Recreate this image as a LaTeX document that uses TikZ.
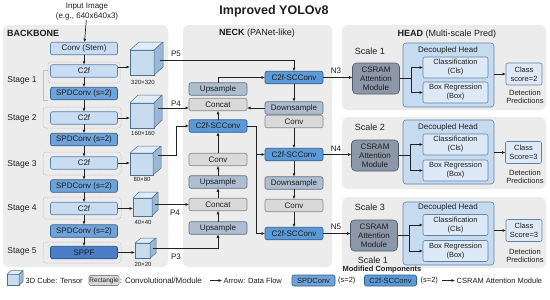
\documentclass[tikz,border=0pt]{standalone}
\usepackage{fontspec}
\setmainfont{Liberation Sans}
\usetikzlibrary{arrows.meta,calc}
\definecolor{panelbg}{HTML}{ECECEC}
\definecolor{linec}{HTML}{222222}
\definecolor{lbfill}{HTML}{C9DDF2}
\definecolor{lbdraw}{HTML}{5A7EA6}
\definecolor{spdfill}{HTML}{6FA2D6}
\definecolor{spddraw}{HTML}{2F5F8F}
\definecolor{sppffill}{HTML}{4A7FC8}
\definecolor{sppfdraw}{HTML}{244F85}
\definecolor{sccfill}{HTML}{5B9AD6}
\definecolor{sccdraw}{HTML}{2D5F91}
\definecolor{udfill}{HTML}{AEBDD0}
\definecolor{uddraw}{HTML}{5F6F84}
\definecolor{gcfill}{HTML}{D9D9D9}
\definecolor{gcdraw}{HTML}{8A8A8A}
\definecolor{csfill}{HTML}{8C98A8}
\definecolor{csdraw}{HTML}{4E5968}
\definecolor{dhfill}{HTML}{C6DBEF}
\definecolor{dhdraw}{HTML}{6283A8}
\definecolor{infill}{HTML}{DDE9F6}
\definecolor{cubefr}{HTML}{C8DCF0}
\definecolor{cubetp}{HTML}{E0ECF8}
\definecolor{cubesd}{HTML}{9BB7D4}
\definecolor{cubedr}{HTML}{4F6F90}
\definecolor{textc}{HTML}{1E1E1E}
\newcommand\tcube[6]{%
  \node[cubef, minimum width=#3pt, minimum height=#4pt] (#1) at (#2) {};
  \draw[cubeline, fill=cubetp] (#1.north west) -- ++(#5,-#6) -- ++(#3,0) -- (#1.north east) -- cycle;
  \draw[cubeline, fill=cubesd] (#1.north east) -- ++(#5,-#6) -- ++(0,#4) -- (#1.south east) -- cycle;}
\begin{document}
\begin{tikzpicture}[x=1pt,y=-1pt,
  arr/.style={-{Latex[length=3.5pt,width=3pt]}, line width=0.7pt, draw=linec},
  ln/.style={line width=0.7pt, draw=linec},
  box/.style={draw, rounded corners=2pt, line width=0.6pt, minimum height=12.5pt, inner sep=1pt, outer sep=0pt, text=textc, font=\fontsize{8}{9}\selectfont},
  bbox/.style={box, minimum width=67pt},
  nbox/.style={box, minimum width=58pt},
  lblue/.style={fill=lbfill, draw=lbdraw},
  spd/.style={fill=spdfill, draw=spddraw},
  sppf/.style={fill=sppffill, draw=sppfdraw},
  scc/.style={fill=sccfill, draw=sccdraw},
  ud/.style={fill=udfill, draw=uddraw},
  gc/.style={fill=gcfill, draw=gcdraw},
  csram/.style={box, fill=csfill, draw=csdraw, rounded corners=4pt, align=center, minimum width=47pt, minimum height=31pt},
  dhead/.style={draw=dhdraw, fill=dhfill, line width=0.6pt, rounded corners=3pt, minimum width=91pt, outer sep=0pt},
  inbox/.style={box, fill=infill, draw=dhdraw, align=center, minimum width=65pt, minimum height=21pt, font=\fontsize{7.5}{9}\selectfont},
  scorebox/.style={box, fill=infill, draw=dhdraw, align=center, minimum width=36pt, minimum height=22pt, font=\fontsize{7.5}{9}\selectfont},
  lbl/.style={font=\fontsize{8}{9}\selectfont, text=textc, inner sep=0pt},
  small/.style={font=\fontsize{6}{7}\selectfont, text=textc, inner sep=0pt},
  leg/.style={font=\fontsize{7.5}{8}\selectfont, text=textc, inner sep=0.5pt},
  hdr/.style={font=\fontsize{9}{10}\selectfont, text=textc, inner sep=0pt},
  grp/.style={draw=gray!55, dash pattern=on 1.5pt off 1pt, line width=0.5pt, rounded corners=3pt},
  cubef/.style={draw=cubedr, fill=cubefr, line width=0.5pt, inner sep=0pt, outer sep=0pt},
  cubeline/.style={draw=cubedr, line width=0.5pt, line join=round},
  panel/.style={fill=panelbg, rounded corners=6pt}
]
\useasboundingbox (0,0) rectangle (550,300);
\fill[white] (0,0) rectangle (550,300);

% panels
\fill[panel] (3,25) rectangle (168,267);
\fill[panel] (183,25) rectangle (332,267);
\fill[panel] (342,25) rectangle (546,110);
\fill[panel] (342,117) rectangle (546,189);
\fill[panel] (342,197) rectangle (546,268);

% title and headers
\node[font=\bfseries\fontsize{12.5}{14}\selectfont, text=textc] (title) at (274,11.5) {Improved YOLOv8};
\node[font=\bfseries\fontsize{9}{10}\selectfont, text=textc, anchor=west, inner sep=0pt] (bbt) at (7,33) {BACKBONE};
\node[hdr] (nkt) at (257,33) {\textbf{NECK} (PANet-like)};
\node[hdr] (hdt) at (447,34) {\textbf{HEAD} (Multi-scale Pred)};
\node[lbl, align=center, font=\fontsize{8}{9.5}\selectfont] (inp) at (87,11.5) {Input Image\\(e.g., 640x640x3)};

% stage groups
\draw[grp] (48,62) rectangle (120,83);
\draw[grp] (43,107) rectangle (121,128);
\draw[grp] (43,152) rectangle (121,175);
\draw[grp] (43,197) rectangle (121,219);
\draw[grp] (43,242) rectangle (121,263);
\draw[gray!50, line width=0.6pt] (48,70) -- (43,70) -- (43,100) -- (48,100);

\node[lbl, font=\fontsize{8.5}{10}\selectfont] (s1) at (22,80) {Stage 1};
\node[lbl, font=\fontsize{8.5}{10}\selectfont] (s2) at (22,118) {Stage 2};
\node[lbl, font=\fontsize{8.5}{10}\selectfont] (s3) at (22,164) {Stage 3};
\node[lbl, font=\fontsize{8.5}{10}\selectfont] (s4) at (22,208) {Stage 4};
\node[lbl, font=\fontsize{8.5}{10}\selectfont] (s5) at (22,251) {Stage 5};

% backbone boxes
\node[bbox, lblue] (stem) at (84,48.5) {Conv (Stem)};
\node[bbox, lblue] (c2f1) at (84,71) {C2f};
\node[bbox, spd] (spd1) at (84,93.5) {SPDConv (s=2)};
\node[bbox, lblue] (c2f2) at (84,118) {C2f};
\node[bbox, spd] (spd2) at (84,139.5) {SPDConv (s=2)};
\node[bbox, lblue] (c2f3) at (84,163) {C2f};
\node[bbox, spd] (spd3) at (84,186) {SPDConv (s=2)};
\node[bbox, lblue] (c2f4) at (84,208.5) {C2f};
\node[bbox, spd] (spd4) at (84,231) {SPDConv (s=2)};
\node[bbox, sppf] (sppf) at (84,252.5) {SPPF};

\draw[arr] (inp) -- (stem);
\draw[arr] (stem) -- (c2f1);
\draw[arr] (c2f1) -- (spd1);
\draw[arr] (spd1) -- (c2f2);
\draw[arr] (c2f2) -- (spd2);
\draw[arr] (spd2) -- (c2f3);
\draw[arr] (c2f3) -- (spd3);
\draw[arr] (spd3) -- (c2f4);
\draw[arr] (c2f4) -- (spd4);
\draw[arr] (spd4) -- (sppf);

% cubes
\tcube{cb1}{142,62.5}{24}{25}{9}{8}
\tcube{cb2}{142,115.5}{24}{25}{8}{8}
\tcube{cb3}{141.5,164}{23}{22}{8}{7}
\tcube{cb4}{142.5,207}{19}{18}{6}{6}
\tcube{cb5}{142.5,250.5}{15}{15}{6}{5}
\node[small] (l1) at (143,82) {320×320};
\node[small] (l2) at (143,133.5) {160×160};
\node[small] (l3) at (142,179.5) {80×80};
\node[small] (l4) at (143,222) {40×40};
\node[small] (l5) at (143,264) {20×20};

\coordinate (a1) at ([yshift=4pt]c2f1.east);
\draw[arr] (a1) -- (a1 -| cb1.west);
\draw[arr] (c2f2.east) -- (c2f2.east -| cb2.west);
\draw[arr] (c2f3.east) -- (c2f3.east -| cb3.west);
\draw[arr] (c2f4.east) -- (c2f4.east -| cb4.west);
\draw[arr] (sppf.east) -- (sppf.east -| cb5.west);

% neck left column
\node[nbox, ud] (upT) at (218,89) {Upsample};
\node[nbox, gc] (catT) at (218,104.5) {Concat};
\node[nbox, scc] (sccL) at (218,126) {C2f-SCConv};
\node[nbox, gc] (convL) at (218,159.5) {Conv};
\node[nbox, ud] (upM) at (218,182) {Upsample};
\node[nbox, gc] (catB) at (218,204.5) {Concat};
\node[nbox, ud] (upB) at (218,228) {Upsample};
% neck right column
\node[nbox, scc] (scc1) at (294,77.5) {C2f-SCConv};
\node[nbox, ud] (dsT) at (294,108) {Downsample};
\node[nbox, gc] (convT) at (294,121.5) {Conv};
\node[nbox, scc] (scc2) at (294,154.5) {C2f-SCConv};
\node[nbox, ud] (dsB) at (294,183) {Downsample};
\node[nbox, gc] (convB) at (294,205.5) {Conv};
\node[nbox, scc] (scc3) at (294,233.5) {C2f-SCConv};

% cube outputs
\coordinate (c1o) at (160,60);
\coordinate (c2o) at (158,108);
\coordinate (c3o) at (158,155);
\coordinate (c4o) at (155,204.5);
\coordinate (c5o) at (153,248);
\draw[arr] (c1o) -| (scc1.north);
\draw[arr] (c2o) -- (c2o -| catT.west);
\draw[arr] (c3o) -| ($(sccL.west)+(-13,0)$) -- (sccL.west);
\draw[arr] (c4o) -- (catB.west);
\draw[arr] (c5o) -| (upB.south);
\node[lbl] (p5) at (176,54) {P5};
\node[lbl] (p4a) at (176,103.5) {P4};
\node[lbl] (p4b) at (175,213) {P4};
\node[lbl] (p3) at (176,257) {P3};

% neck flows
\draw[arr] (upB) -- (catB);
\draw[arr] (catB) -- (upM);
\draw[arr] (upM) -- (convL);
\draw[arr] (convL) -- (sccL);
\draw[arr] (sccL) -- (catT);
\draw[arr] (upT.north) |- (scc1.west);
\draw[arr] (dsT.west) -- (dsT.west -| catT.east);
\draw[arr] (scc1) -- (dsT);
\draw[arr] (convT) -- (scc2);
\draw[arr] (scc2) -- (dsB);
\draw[arr] (dsB) -- (convB);
\draw[arr] (convB) -- (scc3);
\coordinate (sj) at ($(sccL.east)+(9,0)$);
\draw[ln] (sccL.east) -- (sj);
\draw[arr] (sj) |- (scc2.west);
\draw[arr] (sj) |- (scc3.west);

% head
\node[hdr] (sc1) at (370,51) {Scale 1};
\node[hdr] (sc2) at (370,127) {Scale 2};
\node[hdr] (sc3) at (370,207) {Scale 3};
\node[hdr] (sc1b) at (373,260) {Scale 1};

\node[dhead, minimum height=64pt] (dh1) at (448.5,75) {};
\node[dhead, minimum height=64pt] (dh2) at (448.5,152) {};
\node[dhead, minimum height=63pt] (dh3) at (448.5,233.5) {};
\node[lbl] (dt1) at (448,50) {Decoupled Head};
\node[lbl] (dt2) at (448,127) {Decoupled Head};
\node[lbl] (dt3) at (448,207) {Decoupled Head};

\node[csram] (cs1) at (376,78.5) {CSRAM\\Attention\\Module};
\node[csram] (cs2) at (375,155.5) {CSRAM\\Attention\\Module};
\node[csram] (cs3) at (374,235.5) {CSRAM\\Attention\\Module};

\node[inbox] (cls1) at (455.5,67.5) {Classification\\(Cls)};
\node[inbox] (box1) at (455.5,92.5) {Box Regression\\(Box)};
\node[inbox] (cls2) at (455.5,144.5) {Classification\\(Cls)};
\node[inbox] (box2) at (455.5,170.5) {Box Regression\\(Box)};
\node[inbox] (cls3) at (455.5,225) {Classification\\(Cls)};
\node[inbox] (box3) at (455.5,251) {Box Regression\\(Box)};

\node[scorebox] (sb1) at (524,74) {Class\\score=2};
\node[scorebox] (sb2) at (523.5,152.5) {Class\\Score=3};
\node[scorebox] (sb3) at (524,230.5) {Class\\Score=3};
\node[lbl, align=center, font=\fontsize{7.5}{8.5}\selectfont] (dp1) at (525,97) {Detection\\Predictions};
\node[lbl, align=center, font=\fontsize{7.5}{8.5}\selectfont] (dp2) at (525,177) {Detection\\Predictions};
\node[lbl, align=center, font=\fontsize{7.5}{8.5}\selectfont] (dp3) at (525,256) {Detection\\Predictions};

\draw[arr] (scc1.east) -- (scc1.east -| cs1.west);
\draw[arr] (scc2.east) -- (scc2.east -| cs2.west);
\draw[arr] (scc3.east) -- (scc3.east -| cs3.west);
\node[lbl] (n3) at (336,71) {N3};
\node[lbl] (n4) at (336,148.5) {N4};
\node[lbl] (n5) at (336,227) {N5};

\foreach \i in {1,2,3}{
  \coordinate (hj\i) at ($(cs\i.east)+(12,0)$);
  \draw[ln] (cs\i.east) -- (hj\i);
  \draw[arr] (hj\i) |- (cls\i.west);
  \draw[arr] (hj\i) |- (box\i.west);
  \draw[arr] (dh\i.east |- sb\i.west) -- (sb\i.west);
}

% legend
\tcube{lcube}{13,280}{12}{11}{4}{4}
\node[leg, anchor=west] (lt1) at (25,280.5) {3D Cube: Tensor};
\node[box, gc, minimum width=30pt, minimum height=10pt, inner sep=0.5pt, font=\fontsize{6.5}{7}\selectfont] (lrect) at (104,280.5) {Rectangle};
\node[leg, anchor=west, font=\fontsize{8}{9}\selectfont] (lt2) at (lrect.east) {: Convolutional/Module};
\coordinate (la1) at (210,280.5);
\coordinate (la2) at (222,280.5);
\draw[arr, line width=0.6pt] (la1) -- (la2);
\node[leg, anchor=west] (lt3) at (223,280.5) {Arrow: Data Flow};
\node[box, spd, minimum width=43pt, minimum height=11pt, inner sep=0.5pt, font=\fontsize{7.5}{8}\selectfont] (lspd) at (313.5,280.5) {SPDConv};
\node[leg, anchor=west] (lt4) at (337.5,280.5) {(s=2)};
\node[box, scc, minimum width=52pt, minimum height=11pt, inner sep=0.5pt, font=\fontsize{7.5}{8}\selectfont] (lscc) at (390.5,280.5) {C2f-SCConv};
\node[leg, anchor=west] (lt5) at (420,280.5) {(s=2)};
\coordinate (lb1) at (442,280.5);
\coordinate (lb2) at (455,280.5);
\draw[arr, line width=0.6pt] (lb1) -- (lb2);
\node[leg, anchor=west] (lt6) at (456,280.5) {CSRAM Attention Module};
\node[font=\bfseries\fontsize{7.5}{8}\selectfont, text=textc, inner sep=0pt] (lmod) at (382,270) {Modified Components};
\end{tikzpicture}
\end{document}
